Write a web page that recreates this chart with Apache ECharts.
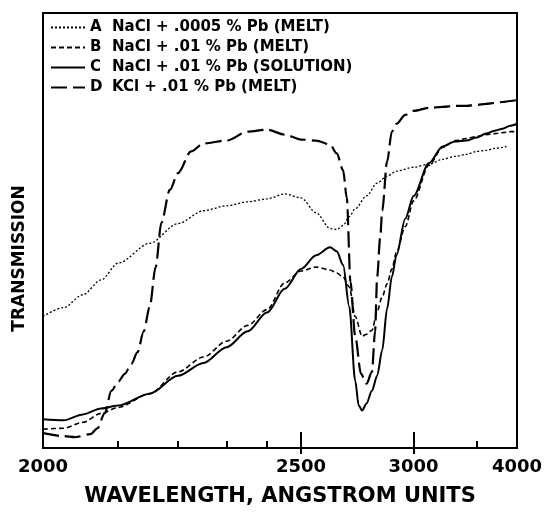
<!DOCTYPE html>
<html>
<head>
<meta charset="utf-8">
<script src="https://cdn.jsdelivr.net/npm/echarts@6/dist/echarts.min.js"></script>
<style>
  html, body { margin: 0; padding: 0; background: #fff; }
  #chart { width: 548px; height: 512px; }
</style>
</head>
<body>
<div id="chart"></div>
<script>
// wavelength axis of the prism spectrogram (Hartmann type scale)
var LAMBDA0 = 1226
var C0 = 774
function tOf(w) { return 1e4 * (1 / C0 - 1 / (w - LAMBDA0)) }
function wOf(t) { return LAMBDA0 + 1 / (1 / C0 - t / 1e4) }

var majorTicks = [2500, 3000]
var minorTicks = [2100, 2200, 2300, 2400, 3500]
var tickLabels = [2000, 2500, 3000, 4000]

// A  NaCl + .0005 % Pb (MELT)
var wlA = [2000, 2025, 2050, 2075, 2100, 2150, 2200, 2250, 2300, 2350, 2400, 2450, 2500, 2550, 2600, 2625, 2650, 2675, 2700, 2750, 2800, 2850, 2900, 3000, 3100, 3200, 3300, 3400, 3500, 3600, 3700, 3800, 3850]
var valA = [133, 142, 155, 170, 187, 207, 227, 240, 245, 249, 252, 257, 253, 238, 222, 221, 225, 234, 242, 255, 268, 275, 280, 284, 287, 292, 295, 297, 300, 301, 303, 304, 305]

// B  NaCl + .01 % Pb (MELT)
var wlB = [2000, 2025, 2050, 2075, 2100, 2150, 2200, 2250, 2300, 2350, 2400, 2450, 2500, 2550, 2600, 2625, 2650, 2675, 2700, 2730, 2750, 2775, 2800, 2825, 2850, 2875, 2900, 2950, 3000, 3100, 3200, 3300, 3400, 3500, 3600, 3700, 3800, 3900, 4000]
var valB = [19, 20, 26, 35, 41, 55, 77, 92, 108, 124, 140, 167, 179, 183, 180, 177, 173, 163, 133, 113, 115, 119, 138, 153, 166, 181, 198, 224, 250, 286, 304, 311, 313, 315, 317, 318, 319, 320, 320]

// C  NaCl + .01 % Pb (SOLUTION)
var wlC = [2000, 2025, 2050, 2075, 2100, 2150, 2200, 2250, 2300, 2350, 2400, 2450, 2500, 2550, 2600, 2625, 2650, 2675, 2700, 2715, 2730, 2750, 2775, 2800, 2825, 2850, 2875, 2900, 2950, 3000, 3100, 3200, 3300, 3400, 3500, 3600, 3700, 3800, 3900, 4000]
var valC = [29, 28, 34, 40, 43, 55, 73, 86, 102, 118, 137, 161, 181, 195, 203, 199, 185, 143, 68, 43, 38, 45, 58, 73, 99, 141, 173, 195, 232, 255, 288, 305, 310, 311, 314, 318, 321, 323, 326, 328]

// D  KCl + .01 % Pb (MELT)
var wlD = [2000, 2025, 2040, 2060, 2070, 2080, 2090, 2100, 2110, 2120, 2130, 2140, 2150, 2160, 2170, 2185, 2200, 2225, 2250, 2300, 2350, 2400, 2450, 2500, 2550, 2600, 2625, 2650, 2665, 2680, 2700, 2725, 2750, 2775, 2790, 2800, 2815, 2825, 2850, 2875, 2900, 2950, 3000, 3100, 3200, 3300, 3400, 3500, 3600, 3700, 3800, 3900, 4000]
var valD = [15, 12, 11, 14, 20, 35, 58, 67, 75, 85, 97, 118, 143, 183, 228, 261, 278, 300, 308, 311, 320, 322, 317, 312, 311, 307, 298, 281, 253, 168, 113, 75, 65, 77, 118, 173, 213, 240, 290, 320, 328, 337, 341, 344, 345, 346, 346, 347, 348, 349, 350, 351, 352]

var legendText = {
  A: 'NaCl + .0005 % Pb (MELT)',
  B: 'NaCl + .01 % Pb (MELT)',
  C: 'NaCl + .01 % Pb (SOLUTION)',
  D: 'KCl + .01 % Pb (MELT)'
}

var FONT = 'DejaVu Sans'

function pairs(wl, vals) {
  return wl.map(function(w, i) { return [tOf(w), vals[i]] })
}

function mkSeries(name, wl, vals, type, width) {
  return {
    name: name,
    type: 'line',
    xAxisIndex: 0,
    showSymbol: false,
    symbol: 'none',
    smooth: 0.3,
    smoothMonotone: 'x',
    silent: true,
    lineStyle: { color: '#000', width: width, type: type },
    itemStyle: { color: '#000' },
    data: pairs(wl, vals)
  }
}

var tMin = tOf(2000)
var tMax = tOf(4000)

// extra axes only used to draw the long ticks at 2500 and 3000
function tickAxis(values, len, inside) {
  return {
    type: 'value',
    position: 'bottom',
    offset: 0,
    min: tMin,
    max: tMax,
    axisLine: { show: false },
    splitLine: { show: false },
    axisLabel: { show: false },
    axisTick: {
      show: true,
      inside: inside,
      length: len,
      customValues: values.map(tOf),
      lineStyle: { color: '#000', width: 2 }
    }
  }
}

var chart = echarts.init(document.getElementById('chart'))
chart.setOption({
  animation: false,
  backgroundColor: '#fff',
  grid: {
    left: 43, right: 31, top: 13, bottom: 59,
    show: true, borderColor: '#000', borderWidth: 2
  },
  legend: {
    orient: 'vertical',
    left: 45,
    top: 15,
    itemWidth: 34,
    itemHeight: 14,
    itemGap: 5,
    selectedMode: false,
    itemStyle: { opacity: 0 },
    data: ['A', 'B', 'C', 'D'],
    formatter: function(name) {
      return '{k|' + name + '}{t|' + legendText[name] + '}'
    },
    textStyle: {
      color: '#000',
      fontFamily: FONT,
      fontWeight: 'bold',
      fontSize: 15,
      lineHeight: 14,
      rich: {
        k: { width: 22, fontFamily: FONT, fontWeight: 'bold', fontSize: 15, lineHeight: 14, color: '#000' },
        t: { fontFamily: FONT, fontWeight: 'bold', fontSize: 15, lineHeight: 14, color: '#000' }
      }
    }
  },
  xAxis: [
    {
      type: 'value',
      position: 'bottom',
      min: tMin,
      max: tMax,
      name: 'WAVELENGTH, ANGSTROM UNITS',
      nameLocation: 'middle',
      nameGap: 38,
      nameTextStyle: { color: '#000', fontFamily: FONT, fontWeight: 'bold', fontSize: 21 },
      axisLine: { show: true, lineStyle: { color: '#000', width: 2 } },
      splitLine: { show: false },
      axisTick: {
        show: true,
        inside: true,
        length: 7,
        customValues: minorTicks.map(tOf),
        lineStyle: { color: '#000', width: 2 }
      },
      axisLabel: {
        show: true,
        margin: 10,
        customValues: tickLabels.map(tOf),
        color: '#000',
        fontFamily: FONT,
        fontWeight: 'bold',
        fontSize: 18,
        formatter: function(v) { return String(Math.round(wOf(v) / 100) * 100) }
      }
    },
    tickAxis(majorTicks, 16, true),
    tickAxis(majorTicks, 6, false)
  ],
  yAxis: {
    type: 'value',
    min: 0,
    max: 440,
    name: 'TRANSMISSION',
    nameLocation: 'middle',
    nameGap: 15,
    nameRotate: 90,
    nameTextStyle: {
      color: '#000', fontFamily: FONT, fontWeight: 'bold', fontSize: 17,
      padding: [0, 56, 0, 0]
    },
    axisLine: { show: true, lineStyle: { color: '#000', width: 2 } },
    axisTick: { show: false },
    axisLabel: { show: false },
    splitLine: { show: false }
  },
  series: [
    mkSeries('A', wlA, valA, [2, 2], 1.3),
    mkSeries('B', wlB, valB, [5, 3], 1.6),
    mkSeries('C', wlC, valC, 'solid', 2),
    mkSeries('D', wlD, valD, [16, 6], 2.2)
  ]
})
</script>
</body>
</html>
